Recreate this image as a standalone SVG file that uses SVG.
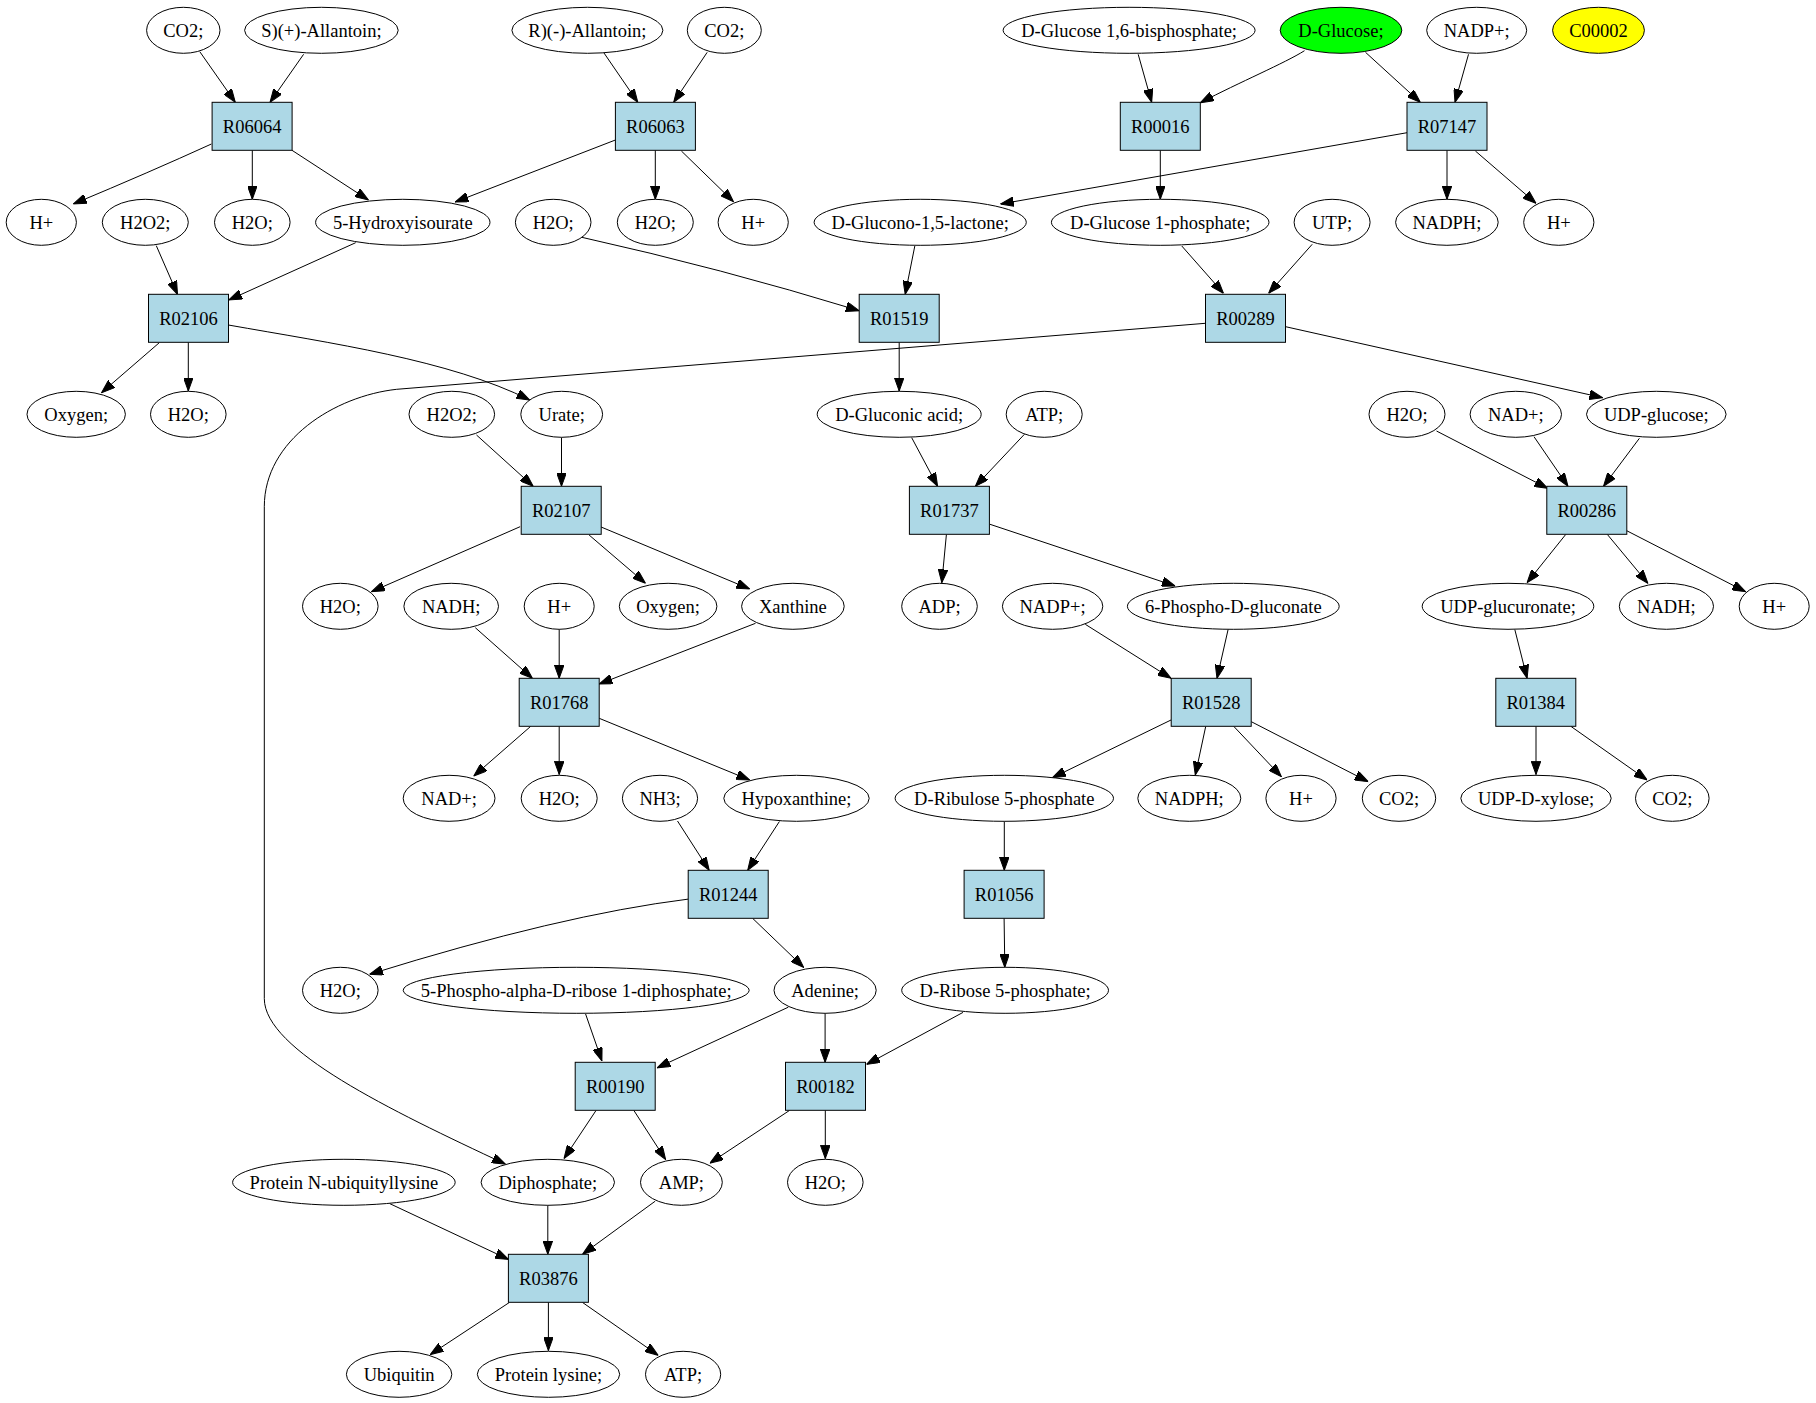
<svg xmlns="http://www.w3.org/2000/svg" width="1816" height="1403" viewBox="0 0 1816 1403">
<style>
.n ellipse{fill:#fff;stroke:#000;stroke-width:1}
.r rect{fill:#add8e6;stroke:#000;stroke-width:1}
text{font-family:"Liberation Serif","Times New Roman",serif;font-size:18.5px;text-anchor:middle;fill:#000}
#edges path{fill:none;stroke:#000;stroke-width:1;marker-end:url(#a)}
</style>
<defs>
<marker id="a" viewBox="0 0 13.3 9.6" refX="13.3" refY="4.8" markerWidth="13.3" markerHeight="9.6" markerUnits="userSpaceOnUse" orient="auto">
<path d="M0,0 L13.3,4.8 L0,9.6 z" fill="#000" stroke="#000" stroke-width="1"/>
</marker>
</defs>
<rect width="1816" height="1403" fill="#fff"/>
<g id="edges">
<path d="M199.8,51.7 L235.3,102.3"/>
<path d="M303.6,54.3 L270,102.3"/>
<path d="M211.4,144 Q150,172 73.3,204"/>
<path d="M252.3,150.3 L252.3,199.3"/>
<path d="M292,150.3 L368.4,200"/>
<path d="M604,53 L637.8,102.3"/>
<path d="M707.2,52.3 L673.7,102.3"/>
<path d="M615.4,140 L455.2,202"/>
<path d="M655.3,150.3 L655.3,199.3"/>
<path d="M681.4,151 L733.5,201.7"/>
<path d="M1138.2,54.3 L1151.7,102.3"/>
<path d="M1304.5,50.7 C1285,63 1240,82 1200.3,102.7"/>
<path d="M1160.3,150.3 L1160.3,199.3"/>
<path d="M1365.5,52.3 L1420.3,102.3"/>
<path d="M1468.5,54.3 L1455,102.3"/>
<path d="M1407.1,132.7 L1000.5,204"/>
<path d="M1447,150.3 L1447,199.3"/>
<path d="M1475.4,151 L1536,203.3"/>
<path d="M156.3,245.7 L177.5,294.3"/>
<path d="M355.7,242.7 L228.8,300"/>
<path d="M159.3,342.7 L101.5,392.7"/>
<path d="M188.3,342.3 L188.3,391"/>
<path d="M228.4,325 C330,343 450,360 529.7,400"/>
<path d="M581.8,237.3 Q720,268 859.2,310.7"/>
<path d="M914.8,246 L905.2,294.3"/>
<path d="M899.2,342.3 L899.2,391"/>
<path d="M1181.8,246 L1223.5,293.3"/>
<path d="M1312.2,244.3 L1268.6,293.3"/>
<path d="M1285.6,326.7 L1602.7,397.7"/>
<path d="M1205.3,323.3 L396.7,389.3 C335,396 264.3,440 264.3,506.7 L264.3,998.6 C264.3,1050 390,1110 505.4,1164.1"/>
<path d="M476.5,435 L533.2,486.3"/>
<path d="M561.5,437.5 L561.5,486.3"/>
<path d="M520.1,526.7 L371.5,591.7"/>
<path d="M589.1,535 L645.5,583.3"/>
<path d="M601.1,527 L749.7,589"/>
<path d="M911.7,437.7 L937.6,486.3"/>
<path d="M1024.4,434.3 L975.4,486.3"/>
<path d="M946.4,534.5 L941.8,582.7"/>
<path d="M990,524.3 L1175.2,586"/>
<path d="M1436.5,431 L1547.6,488.3"/>
<path d="M1534,436.7 L1568,486.3"/>
<path d="M1639.4,438.3 L1603.5,486.3"/>
<path d="M1565.7,534.5 L1527.1,582.7"/>
<path d="M1607.4,534.5 L1647.9,583.3"/>
<path d="M1626.7,530.7 L1745.5,591.7"/>
<path d="M475.3,627.7 L532.4,678.3"/>
<path d="M559.2,629.3 L559.2,678.3"/>
<path d="M755.5,623.3 L599.2,684"/>
<path d="M530.5,726.5 L473.8,776"/>
<path d="M559.2,726.3 L559.2,774.5"/>
<path d="M599.2,718.3 L749.7,780"/>
<path d="M1085.3,624.3 L1171,678.3"/>
<path d="M1228.1,629.5 L1217,678.3"/>
<path d="M1171,720 L1052.5,777.7"/>
<path d="M1205.7,726.5 L1195.3,775"/>
<path d="M1233.9,726.5 L1281.4,776.7"/>
<path d="M1251.3,721.7 L1368.2,781.7"/>
<path d="M1514.8,629.5 L1527.1,678.3"/>
<path d="M1536,726.3 L1536,774.5"/>
<path d="M1571.1,726.5 L1647.1,780"/>
<path d="M677.5,821 L709.2,870.3"/>
<path d="M779.4,821.5 L747.7,870.3"/>
<path d="M688.3,899.1 Q560,915 369.6,974.3"/>
<path d="M752.8,918.5 L803.7,967.4"/>
<path d="M1004.3,821.3 L1004.3,870.3"/>
<path d="M1004.1,918.3 L1004.8,967.3"/>
<path d="M585.6,1014 L601.9,1060.9"/>
<path d="M788.3,1007.2 L657.1,1067.8"/>
<path d="M596,1110.5 L564,1158.6"/>
<path d="M633.9,1110.5 L665.6,1159.6"/>
<path d="M825.1,1013.3 L825.1,1062.3"/>
<path d="M963,1012.4 L866.6,1064.4"/>
<path d="M789.4,1110.5 L709.9,1163.1"/>
<path d="M825.3,1110.3 L825.3,1158.6"/>
<path d="M389.7,1203.6 L508.5,1259.4"/>
<path d="M547.8,1205.3 L547.8,1254.3"/>
<path d="M655.2,1201.2 L582.6,1254.2"/>
<path d="M509.3,1302.5 L430.2,1354.6"/>
<path d="M548.4,1302.3 L548.4,1350.6"/>
<path d="M582.6,1302.5 L658.2,1355.3"/>
</g>
<g id="c_co2_a" class="n"><ellipse cx="183.3" cy="30.3" rx="36.7" ry="23"/><text x="183.3" y="36.6">CO2;</text></g>
<g id="c_s_allantoin" class="n"><ellipse cx="321.4" cy="30.3" rx="76.8" ry="23"/><text x="321.4" y="36.6">S)(+)-Allantoin;</text></g>
<g id="c_r_allantoin" class="n"><ellipse cx="587.4" cy="30.3" rx="75.5" ry="23"/><text x="587.4" y="36.6">R)(-)-Allantoin;</text></g>
<g id="c_co2_b" class="n"><ellipse cx="724.3" cy="30.3" rx="37" ry="23"/><text x="724.3" y="36.6">CO2;</text></g>
<g id="c_g16bp" class="n"><ellipse cx="1129.1" cy="30.3" rx="126" ry="23"/><text x="1129.1" y="36.6">D-Glucose 1,6-bisphosphate;</text></g>
<g id="c_glucose" class="n"><ellipse cx="1341" cy="30.3" rx="60.8" ry="23" style="fill:#00ff00"/><text x="1341" y="36.6">D-Glucose;</text></g>
<g id="c_nadp_a" class="n"><ellipse cx="1476.7" cy="30.3" rx="50" ry="23"/><text x="1476.7" y="36.6">NADP+;</text></g>
<g id="c_c00002" class="n"><ellipse cx="1598.5" cy="30.3" rx="45.9" ry="23" style="fill:#ffff00"/><text x="1598.5" y="36.6">C00002</text></g>
<g id="R06064" class="r"><rect x="212.1" y="102.3" width="80" height="48"/><text x="252.1" y="132.6">R06064</text></g>
<g id="R06063" class="r"><rect x="615.4" y="102.3" width="80" height="48"/><text x="655.4" y="132.6">R06063</text></g>
<g id="R00016" class="r"><rect x="1120.3" y="102.3" width="80" height="48"/><text x="1160.3" y="132.6">R00016</text></g>
<g id="R07147" class="r"><rect x="1407" y="102.3" width="80" height="48"/><text x="1447" y="132.6">R07147</text></g>
<g id="c_hplus_a" class="n"><ellipse cx="41.3" cy="222.3" rx="35.1" ry="23"/><text x="41.3" y="228.6">H+</text></g>
<g id="c_h2o2_a" class="n"><ellipse cx="145.3" cy="222.3" rx="43" ry="23"/><text x="145.3" y="228.6">H2O2;</text></g>
<g id="c_h2o_a" class="n"><ellipse cx="252.3" cy="222.3" rx="37.8" ry="23"/><text x="252.3" y="228.6">H2O;</text></g>
<g id="c_hiu" class="n"><ellipse cx="402.8" cy="222.3" rx="87.2" ry="23"/><text x="402.8" y="228.6">5-Hydroxyisourate</text></g>
<g id="c_h2o_b" class="n"><ellipse cx="553.2" cy="222.3" rx="37.8" ry="23"/><text x="553.2" y="228.6">H2O;</text></g>
<g id="c_h2o_c" class="n"><ellipse cx="655.3" cy="222.3" rx="38" ry="23"/><text x="655.3" y="228.6">H2O;</text></g>
<g id="c_hplus_b" class="n"><ellipse cx="753.2" cy="222.3" rx="35.1" ry="23"/><text x="753.2" y="228.6">H+</text></g>
<g id="c_gdl" class="n"><ellipse cx="920.2" cy="222.3" rx="106.1" ry="23"/><text x="920.2" y="228.6">D-Glucono-1,5-lactone;</text></g>
<g id="c_g1p" class="n"><ellipse cx="1160.2" cy="222.3" rx="108.8" ry="23"/><text x="1160.2" y="228.6">D-Glucose 1-phosphate;</text></g>
<g id="c_utp" class="n"><ellipse cx="1332.1" cy="222.3" rx="38" ry="23"/><text x="1332.1" y="228.6">UTP;</text></g>
<g id="c_nadph_a" class="n"><ellipse cx="1446.9" cy="222.3" rx="51.3" ry="23"/><text x="1446.9" y="228.6">NADPH;</text></g>
<g id="c_hplus_c" class="n"><ellipse cx="1558.8" cy="222.3" rx="35.1" ry="23"/><text x="1558.8" y="228.6">H+</text></g>
<g id="R02106" class="r"><rect x="148.5" y="294.3" width="80" height="48"/><text x="188.5" y="324.6">R02106</text></g>
<g id="R01519" class="r"><rect x="859.2" y="294.3" width="80" height="48"/><text x="899.2" y="324.6">R01519</text></g>
<g id="R00289" class="r"><rect x="1205.5" y="294.3" width="80" height="48"/><text x="1245.5" y="324.6">R00289</text></g>
<g id="c_oxygen_a" class="n"><ellipse cx="76.2" cy="414.3" rx="49.2" ry="23"/><text x="76.2" y="420.6">Oxygen;</text></g>
<g id="c_h2o_d" class="n"><ellipse cx="188.3" cy="414.3" rx="37.8" ry="23"/><text x="188.3" y="420.6">H2O;</text></g>
<g id="c_h2o2_b" class="n"><ellipse cx="451.8" cy="414.3" rx="42.8" ry="23"/><text x="451.8" y="420.6">H2O2;</text></g>
<g id="c_urate" class="n"><ellipse cx="561.7" cy="414.3" rx="40.9" ry="23"/><text x="561.7" y="420.6">Urate;</text></g>
<g id="c_gluconic" class="n"><ellipse cx="899.2" cy="414.3" rx="82" ry="23"/><text x="899.2" y="420.6">D-Gluconic acid;</text></g>
<g id="c_atp_a" class="n"><ellipse cx="1044.2" cy="414.3" rx="38" ry="23"/><text x="1044.2" y="420.6">ATP;</text></g>
<g id="c_h2o_e" class="n"><ellipse cx="1407" cy="414.3" rx="38" ry="23"/><text x="1407" y="420.6">H2O;</text></g>
<g id="c_nad_a" class="n"><ellipse cx="1515.8" cy="414.3" rx="45.7" ry="23"/><text x="1515.8" y="420.6">NAD+;</text></g>
<g id="c_udpglc" class="n"><ellipse cx="1656.3" cy="414.3" rx="69.8" ry="23"/><text x="1656.3" y="420.6">UDP-glucose;</text></g>
<g id="R02107" class="r"><rect x="521.2" y="486.3" width="80" height="48"/><text x="561.2" y="516.6">R02107</text></g>
<g id="R01737" class="r"><rect x="909.4" y="486.3" width="80" height="48"/><text x="949.4" y="516.6">R01737</text></g>
<g id="R00286" class="r"><rect x="1546.8" y="486.3" width="80" height="48"/><text x="1586.8" y="516.6">R00286</text></g>
<g id="c_h2o_f" class="n"><ellipse cx="340.3" cy="606.3" rx="37.8" ry="23"/><text x="340.3" y="612.6">H2O;</text></g>
<g id="c_nadh_a" class="n"><ellipse cx="451.2" cy="606.3" rx="47.3" ry="23"/><text x="451.2" y="612.6">NADH;</text></g>
<g id="c_hplus_d" class="n"><ellipse cx="559.2" cy="606.3" rx="35" ry="23"/><text x="559.2" y="612.6">H+</text></g>
<g id="c_oxygen_b" class="n"><ellipse cx="668.1" cy="606.3" rx="48.8" ry="23"/><text x="668.1" y="612.6">Oxygen;</text></g>
<g id="c_xanthine" class="n"><ellipse cx="792.9" cy="606.3" rx="51.3" ry="23"/><text x="792.9" y="612.6">Xanthine</text></g>
<g id="c_adp" class="n"><ellipse cx="939.5" cy="606.3" rx="37.8" ry="23"/><text x="939.5" y="612.6">ADP;</text></g>
<g id="c_nadp_b" class="n"><ellipse cx="1052.6" cy="606.3" rx="50.2" ry="23"/><text x="1052.6" y="612.6">NADP+;</text></g>
<g id="c_6pg" class="n"><ellipse cx="1233.3" cy="606.3" rx="105.9" ry="23"/><text x="1233.3" y="612.6">6-Phospho-D-gluconate</text></g>
<g id="c_udpgla" class="n"><ellipse cx="1508" cy="606.3" rx="85.8" ry="23"/><text x="1508" y="612.6">UDP-glucuronate;</text></g>
<g id="c_nadh_b" class="n"><ellipse cx="1666.4" cy="606.3" rx="47.1" ry="23"/><text x="1666.4" y="612.6">NADH;</text></g>
<g id="c_hplus_e" class="n"><ellipse cx="1774.2" cy="606.3" rx="35" ry="23"/><text x="1774.2" y="612.6">H+</text></g>
<g id="R01768" class="r"><rect x="519.2" y="678.3" width="80" height="48"/><text x="559.2" y="708.6">R01768</text></g>
<g id="R01528" class="r"><rect x="1171.2" y="678.3" width="80" height="48"/><text x="1211.2" y="708.6">R01528</text></g>
<g id="R01384" class="r"><rect x="1495.8" y="678.3" width="80" height="48"/><text x="1535.8" y="708.6">R01384</text></g>
<g id="c_nad_b" class="n"><ellipse cx="449.1" cy="798.3" rx="45.9" ry="23"/><text x="449.1" y="804.6">NAD+;</text></g>
<g id="c_h2o_g" class="n"><ellipse cx="559.2" cy="798.3" rx="38" ry="23"/><text x="559.2" y="804.6">H2O;</text></g>
<g id="c_nh3" class="n"><ellipse cx="660" cy="798.3" rx="37.6" ry="23"/><text x="660" y="804.6">NH3;</text></g>
<g id="c_hypoxanthine" class="n"><ellipse cx="796.5" cy="798.3" rx="72.7" ry="23"/><text x="796.5" y="804.6">Hypoxanthine;</text></g>
<g id="c_ru5p" class="n"><ellipse cx="1004.3" cy="798.3" rx="109.2" ry="23"/><text x="1004.3" y="804.6">D-Ribulose 5-phosphate</text></g>
<g id="c_nadph_b" class="n"><ellipse cx="1189.3" cy="798.3" rx="51.5" ry="23"/><text x="1189.3" y="804.6">NADPH;</text></g>
<g id="c_hplus_f" class="n"><ellipse cx="1301" cy="798.3" rx="35.1" ry="23"/><text x="1301" y="804.6">H+</text></g>
<g id="c_co2_c" class="n"><ellipse cx="1399" cy="798.3" rx="36.7" ry="23"/><text x="1399" y="804.6">CO2;</text></g>
<g id="c_udpxyl" class="n"><ellipse cx="1536" cy="798.3" rx="75.2" ry="23"/><text x="1536" y="804.6">UDP-D-xylose;</text></g>
<g id="c_co2_d" class="n"><ellipse cx="1672.3" cy="798.3" rx="36.8" ry="23"/><text x="1672.3" y="804.6">CO2;</text></g>
<g id="R01244" class="r"><rect x="688.2" y="870.3" width="80" height="48"/><text x="728.2" y="900.6">R01244</text></g>
<g id="R01056" class="r"><rect x="964.1" y="870.3" width="80" height="48"/><text x="1004.1" y="900.6">R01056</text></g>
<g id="c_h2o_h" class="n"><ellipse cx="340.3" cy="990.3" rx="37.8" ry="23"/><text x="340.3" y="996.6">H2O;</text></g>
<g id="c_prpp" class="n"><ellipse cx="576.2" cy="990.3" rx="173" ry="23"/><text x="576.2" y="996.6">5-Phospho-alpha-D-ribose 1-diphosphate;</text></g>
<g id="c_adenine" class="n"><ellipse cx="825.1" cy="990.3" rx="51.1" ry="23"/><text x="825.1" y="996.6">Adenine;</text></g>
<g id="c_r5p" class="n"><ellipse cx="1005.1" cy="990.3" rx="103.4" ry="23"/><text x="1005.1" y="996.6">D-Ribose 5-phosphate;</text></g>
<g id="R00190" class="r"><rect x="575.2" y="1062.3" width="80" height="48"/><text x="615.2" y="1092.6">R00190</text></g>
<g id="R00182" class="r"><rect x="785.5" y="1062.3" width="80" height="48"/><text x="825.5" y="1092.6">R00182</text></g>
<g id="c_pnub" class="n"><ellipse cx="343.9" cy="1182.3" rx="111.3" ry="23"/><text x="343.9" y="1188.6">Protein N-ubiquityllysine</text></g>
<g id="c_diphosphate" class="n"><ellipse cx="547.8" cy="1182.3" rx="66.7" ry="23"/><text x="547.8" y="1188.6">Diphosphate;</text></g>
<g id="c_amp" class="n"><ellipse cx="681.4" cy="1182.3" rx="40.9" ry="23"/><text x="681.4" y="1188.6">AMP;</text></g>
<g id="c_h2o_i" class="n"><ellipse cx="825.3" cy="1182.3" rx="37.8" ry="23"/><text x="825.3" y="1188.6">H2O;</text></g>
<g id="R03876" class="r"><rect x="508.4" y="1254.3" width="80" height="48"/><text x="548.4" y="1284.6">R03876</text></g>
<g id="c_ubiquitin" class="n"><ellipse cx="399.1" cy="1374.3" rx="52.7" ry="23"/><text x="399.1" y="1380.6">Ubiquitin</text></g>
<g id="c_plys" class="n"><ellipse cx="548.5" cy="1374.3" rx="71.2" ry="23"/><text x="548.5" y="1380.6">Protein lysine;</text></g>
<g id="c_atp_b" class="n"><ellipse cx="683.1" cy="1374.3" rx="37.6" ry="23"/><text x="683.1" y="1380.6">ATP;</text></g>
</svg>
